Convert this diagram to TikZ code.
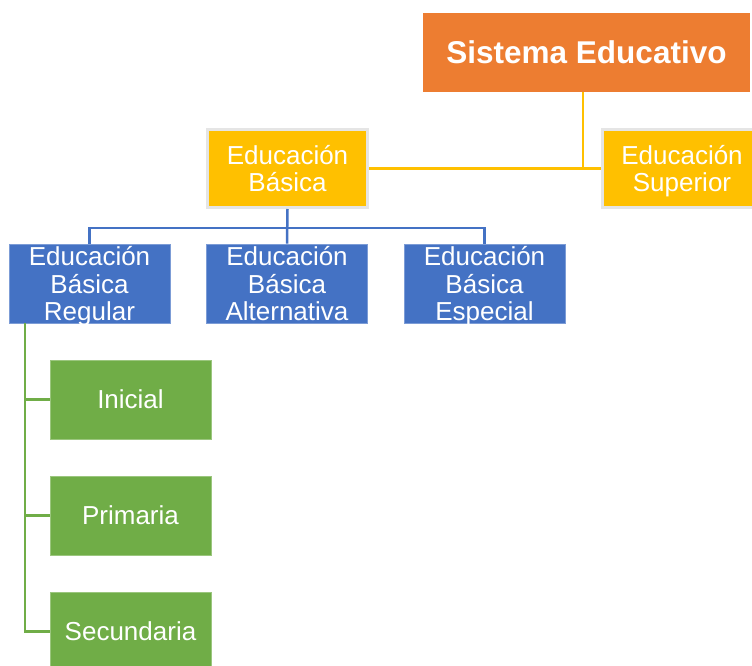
\documentclass[tikz,border=0pt]{standalone}
\usepackage{fontspec}
\setmainfont{Liberation Sans}
\usetikzlibrary{positioning}
\definecolor{naranja}{HTML}{ED7D31}
\definecolor{amarillo}{HTML}{FFC000}
\definecolor{azul}{HTML}{4472C4}
\definecolor{verde}{HTML}{70AD47}

\begin{document}
\begin{tikzpicture}[x=1pt,y=-1pt,
    caja/.style={text=white, align=center, inner sep=0pt, text depth=0pt,
        font=\fontsize{26}{27}\selectfont},
    raiz/.style={caja, fill=naranja, minimum width=327, minimum height=79,
        font=\fontsize{31.5}{34}\selectfont\bfseries},
    nivel/.style={caja, fill=amarillo, draw=black!10, line width=3pt,
        minimum width=160, minimum height=78},
    modalidad/.style={caja, fill=azul, draw=azul!70!white, line width=0.8pt,
        minimum width=161, minimum height=79, font=\fontsize{26}{27.5}\selectfont},
    ciclo/.style={caja, fill=verde, draw=verde!70!white, line width=0.8pt,
        minimum width=161, minimum height=79}]
    % marco de la figura
    \useasboundingbox (0,0) rectangle (752,666);

    % nodo principal
    \node[raiz] (sistema) at (586.5,52.5) {Sistema Educativo};

    % niveles
    \node[nivel] (basica) at (287.5,168.5) {Educación\\Básica};
    \node[nivel] (superior) at (682,168.5) {Educación\\Superior};

    % modalidades de la educación básica
    \node[modalidad] (regular) at (89.5,283.5) {Educación\\Básica\\Regular};
    \node[modalidad] (alternativa) at (287,283.5) {Educación\\Básica\\Alternativa};
    \node[modalidad] (especial) at (484.5,283.5) {Educación\\Básica\\Especial};

    % ciclos de la básica regular
    \node[ciclo] (inicial) at (130.5,399.5) {Inicial};
    \node[ciclo] (primaria) at (130.5,515.5) {Primaria};
    \node[ciclo] (secundaria) at (130.5,631.5) {Secundaria};

    % conectores amarillos
    \draw[amarillo, line width=2.5pt] (basica.east) -- (superior.west);
    \draw[amarillo, line width=2.5pt] ([xshift=-3.5]sistema.south) -- ([xshift=-3.5]sistema.south |- basica.east);

    % conectores azules
    \coordinate (nudo) at (287,228);
    \draw[azul, line width=2.5pt] (regular.north) -- (regular.north |- nudo)
        -- (especial.north |- nudo) -- (especial.north);
    \draw[azul, line width=2.5pt] (basica.south) -- (alternativa.north);

    % conectores verdes
    \coordinate (eje) at (25,323);
    \draw[verde, line width=2.5pt] (eje) |- (secundaria.west);
    \draw[verde, line width=2.5pt] (eje |- inicial.west) -- (inicial.west);
    \draw[verde, line width=2.5pt] (eje |- primaria.west) -- (primaria.west);
\end{tikzpicture}
\end{document}
